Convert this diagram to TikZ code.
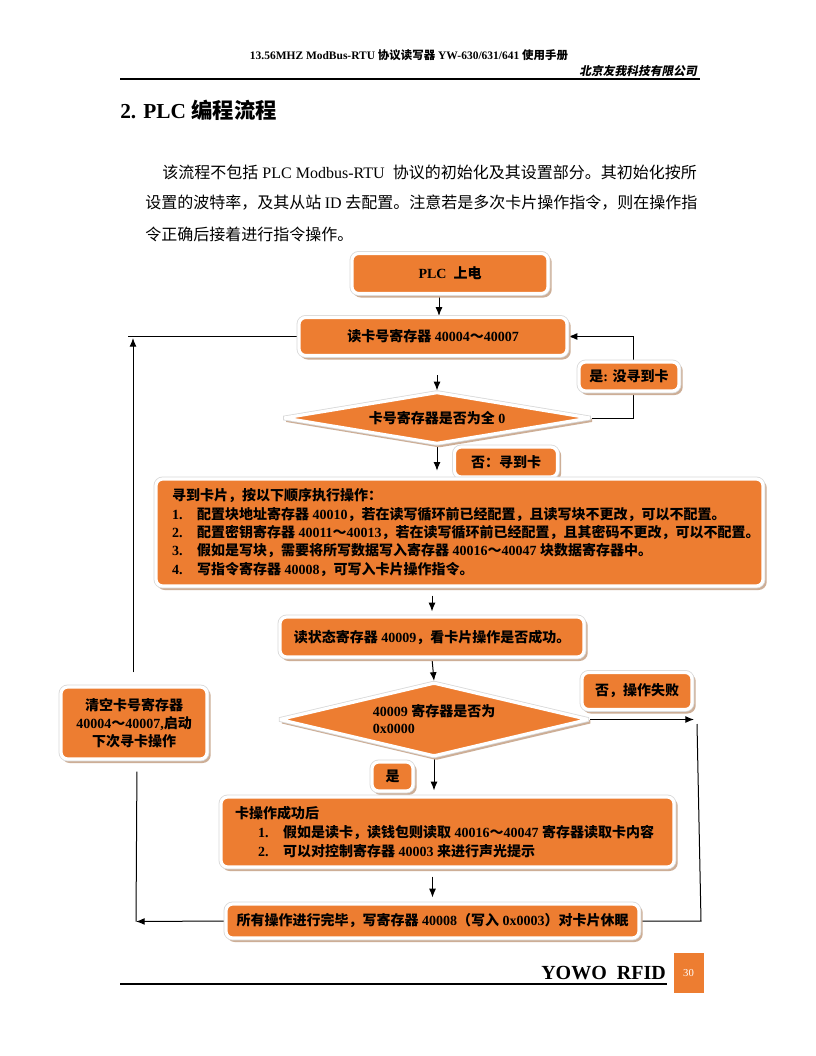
\documentclass[tikz,border=0pt]{standalone}
\usepackage{fontspec}
\setmainfont{Liberation Serif}
\newfontfamily\cjkfont{Noto Sans CJK SC}
\newfontfamily\cjkslantfont[FakeSlant=0.2]{Noto Sans CJK SC}
\let\cjksw\cjkfont
\newXeTeXintercharclass\cjkclass
\newcount\cjkc
\def\setcjkrange#1#2{\cjkc=#1\relax
  \loop\XeTeXcharclass\cjkc=\cjkclass\relax
  \ifnum\cjkc<#2\relax\advance\cjkc by 1\repeat}
\setcjkrange{"4E00}{"9FFF}
\setcjkrange{"3000}{"303F}
\setcjkrange{"FF00}{"FFEF}
\XeTeXinterchartoks 0 \cjkclass = {\begingroup\cjksw}
\XeTeXinterchartoks 4095 \cjkclass = {\begingroup\cjksw}
\XeTeXinterchartoks \cjkclass 0 = {\endgroup}
\XeTeXinterchartoks \cjkclass 4095 = {\endgroup}
\XeTeXinterchartokenstate=1
\usetikzlibrary{shapes.geometric,arrows.meta}
\definecolor{og}{HTML}{ED7D31}
\definecolor{shc}{HTML}{CDAE96}
\definecolor{halo}{HTML}{D9D9D9}
\pgfdeclarelayer{bg}
\pgfsetlayers{bg,main}
\tikzset{
  boxbase/.style={fill=og, draw=white, line width=2.4pt, inner sep=0pt, text=black,
    font=\bfseries\fontsize{10.5}{13.7}\selectfont,
    preaction={fill=shc, draw=shc, line width=2.4pt, transform canvas={xshift=1.6pt,yshift=-1.8pt}},
    preaction={draw=halo, line width=3.6pt}},
  obox/.style={boxbase, rectangle, rounded corners=5pt},
  ddia/.style={boxbase, diamond, aspect=4, rounded corners=1pt},
  conn/.style={draw=black, line width=0.75pt},
  arr/.style={conn, -{Latex[length=6.5pt,width=5.2pt]}},
  plain/.style={inner sep=0pt, text=black},
}
\begin{document}
\begin{tikzpicture}[x=0.75pt,y=-0.75pt]
\useasboundingbox (0,0) rectangle (816,1056);

% header
\node[plain, font=\bfseries\fontsize{8.6}{10}\selectfont] (hdr) at (409,55) {13.56MHZ ModBus-RTU 协议读写器 YW-630/631/641 使用手册};
\node[plain, anchor=east, font=\bfseries\fontsize{8.8}{10}\selectfont] (co) at (697,71) {{\let\cjksw\cjkslantfont 北京友我科技有限公司}};
\draw[line width=0.8pt] (120,79) -- (700,79);

% title and paragraph
\node[plain, anchor=west, font=\bfseries\fontsize{16}{19}\selectfont] (title) at (120,110) {2. PLC 编程流程};
\node[plain, anchor=west, font=\fontsize{12}{14}\selectfont] (p1) at (162,172) {\makebox[401pt][s]{该流程不包括 PLC Modbus-RTU \ 协议的初始化及其设置部分。其初始化按所}};
\node[plain, anchor=west, font=\fontsize{12}{14}\selectfont] (p2) at (145,203) {\makebox[414pt][s]{设置的波特率，及其从站 ID 去配置。注意若是多次卡片操作指令，则在操作指}};
\node[plain, anchor=west, font=\fontsize{12}{14}\selectfont] (p3) at (145,234) {令正确后接着进行指令操作。};

% flowchart nodes
\node[obox, minimum width=147pt, minimum height=30pt] (plc) at (450,273.5) {PLC\ \ 上电};
\node[obox, minimum width=201pt, minimum height=28.5pt] (read) at (433,336.5) {读卡号寄存器 40004～40007};
\node[obox, minimum width=75pt, minimum height=21.75pt] (yes1) at (629,376.5) {是: 没寻到卡};
\node[ddia, minimum width=230pt, minimum height=39pt] (d1) at (437,418) {卡号寄存器是否为全 0};
\node[obox, minimum width=77.25pt, minimum height=22.5pt] (no1) at (506,462) {否：寻到卡};
\node[obox, minimum width=455.25pt, minimum height=80.25pt, align=left] (big) at (459.5,532.5)
 {\makebox[455.25pt][l]{\hspace*{12pt}寻到卡片，按以下顺序执行操作：}\\
  \hspace*{12pt}\makebox[18.75pt][l]{1.}配置块地址寄存器 40010，若在读写循环前已经配置，且读写块不更改，可以不配置。\\
  \hspace*{12pt}\makebox[18.75pt][l]{2.}配置密钥寄存器 40011～40013，若在读写循环前已经配置，且其密码不更改，可以不配置。\\
  \hspace*{12pt}\makebox[18.75pt][l]{3.}假如是写块，需要将所写数据写入寄存器 40016～40047 块数据寄存器中。\\
  \hspace*{12pt}\makebox[18.75pt][l]{4.}写指令寄存器 40008，可写入卡片操作指令。};
\node[obox, minimum width=228pt, minimum height=30pt] (status) at (432,637) {读状态寄存器 40009，看卡片操作是否成功。};
\node[ddia, minimum width=232pt, minimum height=55.5pt, align=left, font=\bfseries\fontsize{10.5}{12.75}\selectfont] (d2) at (434,719.5) {40009 寄存器是否为\\0x0000};
\node[obox, minimum width=82.5pt, minimum height=27.75pt] (fail) at (637,691) {否，操作失败};
\node[obox, minimum width=109.5pt, minimum height=54pt, align=center, font=\bfseries\fontsize{10.5}{13.5}\selectfont] (clear) at (134,723) {清空卡号寄存器\\40004～40007,启动\\下次寻卡操作};
\node[obox, minimum width=30.75pt, minimum height=21.75pt] (yes2) at (392.5,776.5) {是};
\node[obox, minimum width=339.75pt, minimum height=52.5pt, align=left, font=\bfseries\fontsize{10.5}{14.2}\selectfont] (succ) at (447.5,832)
 {\makebox[339.75pt][l]{\hspace*{10.5pt}卡操作成功后}\\
  \hspace*{27.75pt}\makebox[18.75pt][l]{1.}假如是读卡，读钱包则读取 40016～40047 寄存器读取卡内容\\
  \hspace*{27.75pt}\makebox[18.75pt][l]{2.}可以对控制寄存器 40003 来进行声光提示};
\node[obox, minimum width=309.75pt, minimum height=25.5pt] (final) at (432.5,921) {所有操作进行完毕，写寄存器 40008（写入 0x0003）对卡片休眠};

% free ends
\coordinate (lt) at (128,336.5);
\coordinate (ltip) at (133,338);
\coordinate (lb) at (136,921.5);
\coordinate (rt) at (694,719.5);
\coordinate (rtop) at (697,724);
\coordinate (rbot) at (701,921);

\begin{pgfonlayer}{bg}
\fill[white] (0,0) rectangle (816,1056);
\draw[arr] ([xshift=-8.25pt]plc.south) -- ([xshift=4.5pt]read.north);
\draw[arr, shorten <=13.5pt] ([xshift=3pt]read.south) -- (d1.north);
\draw[arr] (d1.east) -- ++(42,0) |- (read.east);
\draw[arr, shorten >=5pt] (d1.south) -- (d1.south |- big.north);
\draw[arr, shorten <=6pt, shorten >=3pt] (big.south -| status.north) -- (status.north);
\draw[arr] (status.south) -- (d2.north);
\draw[arr] (d2.east) -- (rt);
\draw[conn] (rtop) -- (rbot) -- (final.east);
\draw[arr, shorten >=3.75pt] (d2.south) -- (d2.south |- succ.north);
\draw[arr, shorten <=6pt, shorten >=3.75pt] (succ.south -| final.north) -- (final.north);
\draw[arr] (final.west) -- (lb);
\draw[conn, shorten <=8.25pt] ([xshift=2.25pt]clear.south) -- (lb);
\draw[arr, shorten <=9.75pt] ([xshift=-0.75pt]clear.north) -- (ltip);
\draw[conn] (read.west) -- (lt);
\end{pgfonlayer}

% footer
\draw[line width=0.8pt] (120,984) -- (667,984);
\node[plain, anchor=base east, font=\bfseries\fontsize{15}{18}\selectfont] (yowo) at (666,979) {YOWO\ \ RFID};
\node[fill=og, minimum width=22.5pt, minimum height=30pt, inner sep=0pt, text=white, font=\fontsize{8}{9}\selectfont] (pg) at (688.5,973) {30};
\end{tikzpicture}
\end{document}
